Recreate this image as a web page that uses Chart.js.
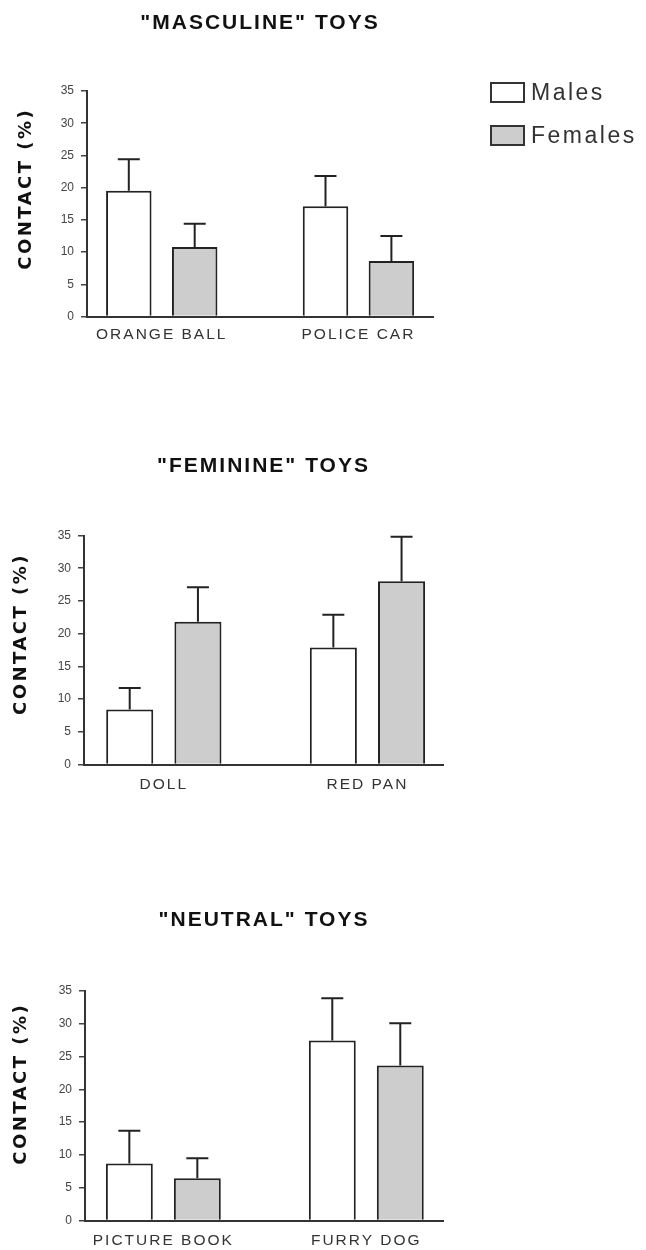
<!DOCTYPE html>
<html><head><meta charset="utf-8">
<script src="https://cdn.jsdelivr.net/npm/chart.js@4.4.1/dist/chart.umd.min.js"></script>
<style>
html,body{margin:0;padding:0;background:#fff;}
body{width:646px;height:1250px;position:relative;overflow:hidden;}
canvas{position:absolute;left:0;}
</style></head><body>
<canvas id="c1" width="646" height="350" style="top:0px"></canvas>
<canvas id="c2" width="646" height="360" style="top:440px"></canvas>
<canvas id="c3" width="646" height="360" style="top:890px"></canvas>
<script>
// ---- data ----
const seriesLabels = ['Males', 'Females'];
const panelTitles = ['"MASCULINE" TOYS', '"FEMININE" TOYS', '"NEUTRAL" TOYS'];
const yTitle = 'CONTACT (%)';
const yTicks = [0, 5, 10, 15, 20, 25, 30, 35];

const masculineToys = ['ORANGE BALL', 'POLICE CAR'];
const masculineMales = [19.5, 17.1];
const masculineMalesErr = [4.9, 4.7];
const masculineFemales = [10.8, 8.6];
const masculineFemalesErr = [3.6, 3.9];

const feminineToys = ['DOLL', 'RED PAN'];
const feminineMales = [8.4, 17.9];
const feminineMalesErr = [3.3, 5.0];
const feminineFemales = [21.8, 28.0];
const feminineFemalesErr = [5.3, 6.8];

const neutralToys = ['PICTURE BOOK', 'FURRY DOG'];
const neutralMales = [8.7, 27.45];
const neutralMalesErr = [5.0, 6.45];
const neutralFemales = [6.45, 23.65];
const neutralFemalesErr = [3.05, 6.45];

// ---- styles ----
const FONT = '"Liberation Sans", Arial, sans-serif';
const MALE_FILL = '#ffffff';
const FEMALE_FILL = '#cdcdcd';
const INK = '#222222';

class SpacedLinearScale extends Chart.LinearScale {
  drawLabels(chartArea) {
    const ctx = this.ctx;
    ctx.save();
    const ls = this.options.letterSpacing;
    ctx.letterSpacing = (typeof ls === 'number' ? ls : 0) + 'px';
    super.drawLabels(chartArea);
    ctx.restore();
  }
}
SpacedLinearScale.id = 'spacedLinear';
SpacedLinearScale.defaults = Chart.LinearScale.defaults;
Chart.register(SpacedLinearScale);

const errorBars = {
  id: 'errorBars',
  afterDatasetsDraw(chart) {
    const ctx = chart.ctx;
    const yScale = chart.scales.y;
    chart.data.datasets.forEach((ds, i) => {
      const meta = chart.getDatasetMeta(i);
      meta.data.forEach((bar, j) => {
        const top = yScale.getPixelForValue(ds.data[j].y + ds.errors[j]);
        ctx.save();
        ctx.strokeStyle = INK;
        ctx.lineWidth = 2;
        ctx.beginPath();
        ctx.moveTo(bar.x, bar.y);
        ctx.lineTo(bar.x, top);
        ctx.moveTo(bar.x - 11, top);
        ctx.lineTo(bar.x + 11, top);
        ctx.stroke();
        ctx.restore();
      });
    });
  }
};

function decorPlugin(cfg) {
  return {
    id: 'decor',
    beforeDraw(chart) { chart.ctx.letterSpacing = '2px'; },
    afterDraw(chart) {
      const ctx = chart.ctx;
      const a = chart.chartArea;
      ctx.save();
      ctx.letterSpacing = '2.5px';
      ctx.font = 'bold 18px "DejaVu Sans", sans-serif';
      ctx.fillStyle = '#111';
      ctx.textAlign = 'center';
      ctx.textBaseline = 'middle';
      ctx.translate(cfg.yTitleX, (a.top + a.bottom) / 2 + cfg.yTitleDy);
      ctx.rotate(-Math.PI / 2);
      ctx.fillText(yTitle, 0, 0);
      ctx.restore();
      if (cfg.legend) {
        const x0 = a.right + 58;
        chart.data.datasets.forEach((ds, i) => {
          const cy = a.top + 1.5 + i * 43;
          ctx.save();
          ctx.fillStyle = ds.backgroundColor;
          ctx.fillRect(x0, cy - 9.5, 33, 19);
          ctx.strokeStyle = '#333';
          ctx.lineWidth = 2;
          ctx.strokeRect(x0, cy - 9.5, 33, 19);
          ctx.fillStyle = '#333';
          ctx.font = '23px ' + FONT;
          ctx.letterSpacing = '2.5px';
          ctx.textAlign = 'left';
          ctx.textBaseline = 'middle';
          ctx.fillText(ds.label, x0 + 40, cy + 1);
          ctx.restore();
        });
      }
    }
  };
}

function makePanel(id, cfg) {
  const toPts = (arr) => arr.map((v, i) => ({x: i, y: v}));
  return new Chart(document.getElementById(id), {
    type: 'bar',
    data: {
      datasets: [
        {label: seriesLabels[0], data: toPts(cfg.males), errors: cfg.malesErr,
         backgroundColor: MALE_FILL, borderColor: INK, borderWidth: 2},
        {label: seriesLabels[1], data: toPts(cfg.females), errors: cfg.femalesErr,
         backgroundColor: FEMALE_FILL, borderColor: INK, borderWidth: 2}
      ]
    },
    options: {
      responsive: false,
      animation: false,
      events: [],
      categoryPercentage: 0.67,
      barPercentage: 0.69,
      layout: {padding: {left: 0, right: cfg.padRight, top: 0, bottom: 0}},
      plugins: {
        legend: {display: false},
        tooltip: {enabled: false},
        title: {
          display: true, text: cfg.title, fullSize: false, color: '#111',
          font: {family: FONT, size: 21, weight: 'bold', lineHeight: 1.2},
          padding: {top: cfg.titlePadTop, bottom: cfg.titlePadBottom}
        }
      },
      scales: {
        x: {
          type: 'spacedLinear', letterSpacing: 2, offset: false,
          min: cfg.xMin, max: cfg.xMax,
          afterBuildTicks: (s) => { s.ticks = cfg.cats.map((c, i) => ({value: i})); },
          afterFit: (s) => { s.height = cfg.xHeight; },
          border: {display: true, color: '#333', width: 2},
          grid: {display: false, drawTicks: false},
          ticks: {callback: (v) => cfg.cats[v], autoSkip: false, maxRotation: 0,
                  font: {family: FONT, size: 15.5}, color: '#333', padding: cfg.tickPad}
        },
        y: {
          type: 'spacedLinear', letterSpacing: 0,
          min: 0, max: 35,
          afterBuildTicks: (s) => { s.ticks = yTicks.map((v) => ({value: v})); },
          afterFit: (s) => { s.width = cfg.yWidth; },
          border: {display: true, color: '#333', width: 2},
          grid: {drawOnChartArea: false, drawTicks: true, tickLength: 6, color: '#444', lineWidth: 1.5},
          ticks: {font: {family: FONT, size: 12}, color: '#444', padding: 7}
        }
      }
    },
    plugins: [errorBars, decorPlugin(cfg)]
  });
}

makePanel('c1', {
  title: panelTitles[0], cats: masculineToys,
  males: masculineMales, malesErr: masculineMalesErr,
  females: masculineFemales, femalesErr: masculineFemalesErr,
  xMin: -0.380, xMax: 1.379, yWidth: 87, padRight: 213,
  titlePadTop: 10.9, titlePadBottom: 54.9, xHeight: 33.5, tickPad: 9,
  yTitleX: 26, yTitleDy: -15, legend: true
});
makePanel('c2', {
  title: panelTitles[1], cats: feminineToys,
  males: feminineMales, malesErr: feminineMalesErr,
  females: feminineFemales, femalesErr: feminineFemalesErr,
  xMin: -0.392, xMax: 1.371, yWidth: 84, padRight: 203,
  titlePadTop: 13.4, titlePadBottom: 56.9, xHeight: 35.5, tickPad: 11,
  yTitleX: 21, yTitleDy: -16, legend: false
});
makePanel('c3', {
  title: panelTitles[2], cats: neutralToys,
  males: neutralMales, malesErr: neutralMalesErr,
  females: neutralFemales, femalesErr: neutralFemalesErr,
  xMin: -0.386, xMax: 1.378, yWidth: 85, padRight: 203,
  titlePadTop: 17.9, titlePadBottom: 57.9, xHeight: 29.5, tickPad: 11,
  yTitleX: 21, yTitleDy: -22, legend: false
});
</script>
</body></html>
